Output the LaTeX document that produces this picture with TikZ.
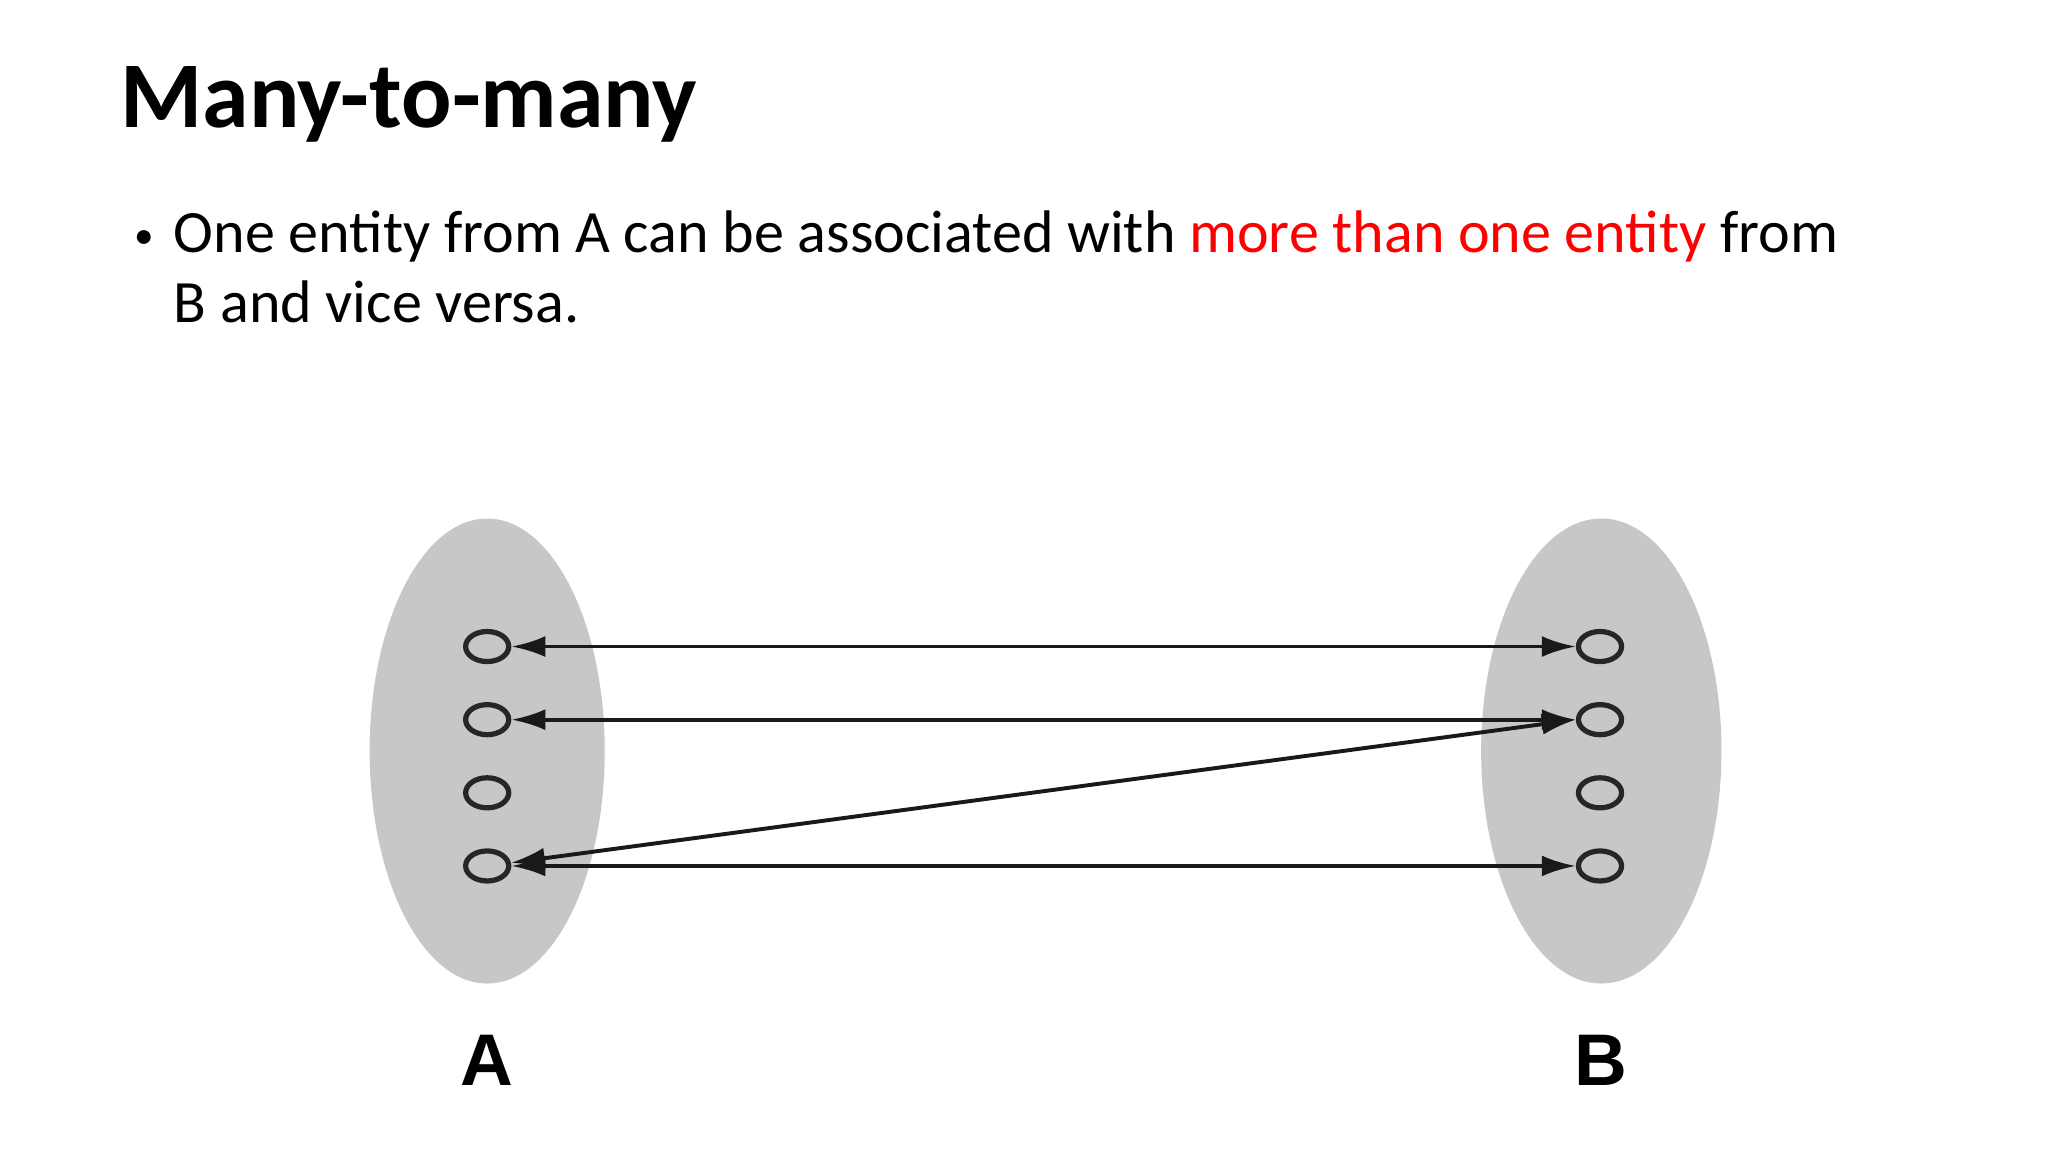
\documentclass[tikz,border=0pt]{standalone}
\usepackage{fontspec}
\setmainfont{Carlito}
\newfontfamily\labfont{Liberation Sans}
\usetikzlibrary{arrows.meta,shapes.geometric}
\begin{document}
\begin{tikzpicture}[x=1pt,y=-1pt,
  setell/.style={fill=black!22,draw=none},
  elem/.style={draw=black!85,line width=4pt,ellipse,minimum width=33pt,minimum height=23pt,inner sep=0pt},
  conn/.style={line width=3pt,black!90,{Latex[length=26pt,width=16pt]}-{Latex[length=26pt,width=16pt]}},
  lab/.style={font=\labfont\bfseries\fontsize{56}{60}\selectfont},
  bodyt/.style={anchor=base west,font=\fontsize{46}{54}\selectfont,inner sep=0}]
\useasboundingbox (0,0) rectangle (1568,882);
\fill[white] (0,0) rectangle (1568,882);
\node[anchor=base west,font=\bfseries\fontsize{72}{76}\selectfont,inner sep=0] (title) at (92,98) {Many-to-many};
\node[bodyt,font=\fontsize{30}{30}\selectfont] (bul) at (103,190) {\textbullet};
\node[bodyt] (body1) at (133,193) {One entity from A can be associated with \textcolor{red}{more than one entity} from};
\node[bodyt] (body2) at (133,247) {B and vice versa.};
\fill[setell] (373,575) ellipse [x radius=90,y radius=178];
\fill[setell] (1226,575) ellipse [x radius=92,y radius=178];
\foreach \i/\y in {1/495,2/551,3/607,4/663}{
  \node[elem] (a\i) at (373,\y) {};
  \node[elem] (b\i) at (1225,\y) {};
}
\draw[conn] (a1) -- (b1);
\draw[conn] (a2) -- (b2);
\draw[conn] (a4) -- (b2.west);
\draw[conn] (a4) -- (b4);
\node[lab] (la) at (373,812) {A};
\node[lab] (lb) at (1226,812) {B};
\end{tikzpicture}
\end{document}
